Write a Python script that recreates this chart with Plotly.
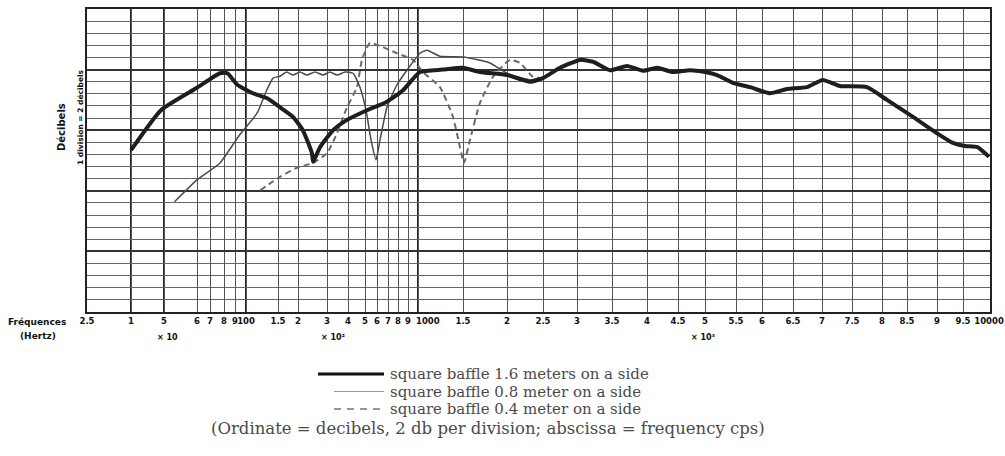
import numpy as np
import plotly.graph_objects as go

# ---- Printed chart-paper frequency scale (non-uniform), Hz -> paper division units
scale_freqs = [25, 40, 50, 60, 70, 80, 90, 100, 150, 200, 300, 400, 500, 600, 700, 800, 900, 1000,
               1500, 2000, 2500, 3000, 3500, 4000, 4500, 5000, 5500, 6000, 6500, 7000, 7500, 8000,
               8500, 9000, 9500, 10000]
scale_pos = [0, 44, 77, 110, 123, 137, 148, 159, 191, 211, 240, 261, 278, 290, 301, 311, 321, 331,
             376, 420, 456, 490, 525, 560, 591, 618, 649, 675, 706, 735, 765, 795, 820, 850, 876, 902]
tick_labels = ["2.5", "1", "5", "6", "7", "8", "9", "100", "1.5", "2", "3", "4", "5", "6", "7", "8",
               "9", "1000", "1.5", "2", "2.5", "3", "3.5", "4", "4.5", "5",
               "5.5", "6", "6.5", "7", "7.5", "8", "8.5", "9", "9.5", "10000"]
# labels printed just right of their ruling on the original paper
offset_labels = ["1000"]

# ---- Series: square baffle 1.6 m
f_16 = [40, 49, 60, 77, 83, 92, 109, 130, 154, 186, 214, 243, 247, 272, 326, 395, 515, 690, 849, 1018,
        1250, 1500, 1676, 2000, 2306, 2500, 2739, 3040, 3220, 3470, 3707, 3940, 4154, 4416, 4712, 5000,
        5190, 5448, 5765, 6126, 6402, 6736, 7011, 7296, 7746, 8097, 8597, 9000, 9302, 9540, 9775, 10000]
db_16 = [26.7, 33.3, 37.0, 39.4, 39.4, 37.5, 36.1, 35.3, 33.8, 32.2, 30.0, 26.2, 24.8, 27.2, 30.0, 31.7,
         33.3, 34.7, 36.6, 39.6, 40.0, 40.3, 39.6, 39.1, 38.0, 38.6, 40.3, 41.6, 41.3, 39.9, 40.6, 39.8,
         40.3, 39.6, 39.9, 39.6, 39.1, 37.8, 37.1, 36.1, 36.8, 37.1, 38.3, 37.3, 37.1, 35.0, 32.2, 29.5,
         27.9, 27.4, 27.2, 25.6]

# ---- Series: square baffle 0.8 m
f_08 = [53, 60, 77, 94, 115, 130, 141, 154, 170, 186, 206, 226, 254, 284, 312, 344, 384, 427, 468, 508,
        548, 591, 626, 690, 789, 889, 1018, 1084, 1219, 1500, 1788, 2000, 2306, 2500]
db_08 = [18.2, 21.8, 24.6, 29.2, 32.8, 36.6, 38.6, 38.9, 39.6, 39.1, 39.6, 39.1, 39.6, 39.1, 39.6, 39.1,
         39.6, 39.4, 37.1, 33.3, 28.4, 25.1, 28.4, 33.8, 37.5, 39.9, 42.7, 43.2, 42.2, 42.1, 41.1, 39.4,
         38.3, 38.6]

# ---- Series: square baffle 0.4 m
f_04 = [120, 154, 197, 247, 300, 344, 395, 450, 480, 539, 626, 789, 949, 1046, 1219, 1370, 1460, 1510,
        1570, 1676, 1825, 2037, 2167, 2349, 2500]
db_04 = [20.1, 22.3, 23.8, 24.6, 26.2, 29.5, 33.8, 37.1, 41.6, 44.4, 43.9, 42.7, 41.6, 39.6, 37.1, 32.2,
         27.2, 24.6, 28.4, 34.5, 38.8, 41.6, 41.1, 38.8, 38.6]

legend_labels = ["square baffle 1.6 meters on a side",
                 "square baffle 0.8 meter on a side",
                 "square baffle 0.4 meter on a side"]
caption = "(Ordinate = decibels, 2 db per division; abscissa = frequency cps)"


def fpos(f):
    return np.interp(np.log10(np.asarray(f, dtype=float)), np.log10(scale_freqs), scale_pos)


W, H = 1005, 456
L, R, T, B = 87, 15, 9, 144
PW, PH = W - L - R, H - T - B


def px(x):
    return (x - L) / PW


def py(y):
    return (H - B - y) / PH


fig = go.Figure()
fig.add_trace(go.Scatter(x=fpos(f_04), y=db_04, mode="lines", name=legend_labels[2],
                         line=dict(color="#6a6a6a", width=2, dash="6px,4px", shape="spline", smoothing=0.5),
                         showlegend=False))
fig.add_trace(go.Scatter(x=fpos(f_08), y=db_08, mode="lines", name=legend_labels[1],
                         line=dict(color="#4a4a4a", width=1.5, shape="spline", smoothing=0.5),
                         showlegend=False))
fig.add_trace(go.Scatter(x=fpos(f_16), y=db_16, mode="lines", name=legend_labels[0],
                         line=dict(color="#1e1e1e", width=4, shape="spline", smoothing=0.5),
                         showlegend=False))

shapes = []
# heavier vertical rulings
for f in [40, 50, 100, 1000]:
    xv = float(fpos(f))
    shapes.append(dict(type="line", xref="x", yref="paper", x0=xv, x1=xv, y0=0, y1=1,
                       line=dict(color="#222", width=2), layer="below"))

leg_y = [374, 391.5, 409]
# manual legend samples
shapes.append(dict(type="line", xref="paper", yref="paper", x0=px(318), x1=px(384), y0=py(leg_y[0]),
                   y1=py(leg_y[0]), line=dict(color="#111", width=3)))
shapes.append(dict(type="line", xref="paper", yref="paper", x0=px(334), x1=px(384), y0=py(leg_y[1]),
                   y1=py(leg_y[1]), line=dict(color="#999", width=1)))
shapes.append(dict(type="line", xref="paper", yref="paper", x0=px(334), x1=px(386), y0=py(leg_y[2]),
                   y1=py(leg_y[2]), line=dict(color="#777", width=1.5, dash="7px,6px")))

serif = dict(family="DejaVu Serif", size=15, color="#4a4a4a")
ann = []
for lab, yy in zip(legend_labels, leg_y):
    ann.append(dict(text=lab, xref="paper", yref="paper", x=px(389), y=py(yy), xanchor="left",
                    yanchor="middle", showarrow=False, font=serif, borderpad=0))
ann.append(dict(text=caption, xref="paper", yref="paper", x=px(488), y=py(428.5), xanchor="center",
                yanchor="middle", showarrow=False, borderpad=0,
                font=dict(family="DejaVu Serif", size=16.5, color="#4a4a4a")))

tickfont = dict(family="DejaVu Sans", size=8.5, color="#111", weight="bold")
shown_ticktext = []
for f, lab in zip(scale_freqs, tick_labels):
    if lab in offset_labels and f == 1000:
        shown_ticktext.append("")
        ann.append(dict(text=lab, xref="x", yref="paper", x=float(fpos(f)), y=py(321), xanchor="left",
                        xshift=-4, yanchor="middle", showarrow=False, font=tickfont))
    else:
        shown_ticktext.append(lab)

bold = dict(family="DejaVu Sans", size=9, color="#111", weight="bold")
ann.append(dict(text="Fréquences", xref="paper", yref="paper", x=px(37), y=py(322), xanchor="center",
                yanchor="middle", showarrow=False, font=bold))
ann.append(dict(text="(Hertz)", xref="paper", yref="paper", x=px(38), y=py(336), xanchor="center",
                yanchor="middle", showarrow=False, font=bold))
for txt, xx in [("× 10", 167), ("× 10²", 333), ("× 10³", 703)]:
    ann.append(dict(text=txt, xref="paper", yref="paper", x=px(xx), y=py(337), xanchor="center",
                    yanchor="middle", showarrow=False, font=dict(family="DejaVu Sans", size=8,
                                                                  color="#111", weight="bold")))
ann.append(dict(text="Décibels", xref="paper", yref="paper", x=px(61), y=py(127), xanchor="center",
                yanchor="middle", textangle=-90, showarrow=False,
                font=dict(family="DejaVu Sans", size=10, color="#111", weight="bold")))
ann.append(dict(text="1 division = 2 décibels", xref="paper", yref="paper", x=px(80), y=py(117),
                xanchor="center", yanchor="middle", textangle=-90, showarrow=False,
                font=dict(family="DejaVu Sans", size=7.5, color="#111", weight="bold")))

fig.update_layout(
    width=W, height=H, margin=dict(l=L, r=R, t=T, b=B, autoexpand=False),
    paper_bgcolor="white", plot_bgcolor="white",
    shapes=shapes, annotations=ann,
    xaxis=dict(range=[0, 903], tickmode="array", tickvals=scale_pos, ticktext=shown_ticktext,
               tickangle=0, showgrid=True, gridcolor="#555", gridwidth=1, zeroline=False,
               showline=True, mirror=True, linecolor="#222", linewidth=2, ticks="",
               tickfont=tickfont),
    yaxis=dict(range=[0, 50], dtick=10, tick0=0, showgrid=True, gridcolor="#333", gridwidth=2,
               minor=dict(dtick=2, showgrid=True, gridcolor="#666", gridwidth=1),
               showticklabels=False, ticks="", zeroline=False,
               showline=True, mirror=True, linecolor="#222", linewidth=2),
)

fig.write_html("out.html", config={"displayModeBar": False},
               post_script="document.body.style.margin='0';document.body.style.overflow='hidden';")
